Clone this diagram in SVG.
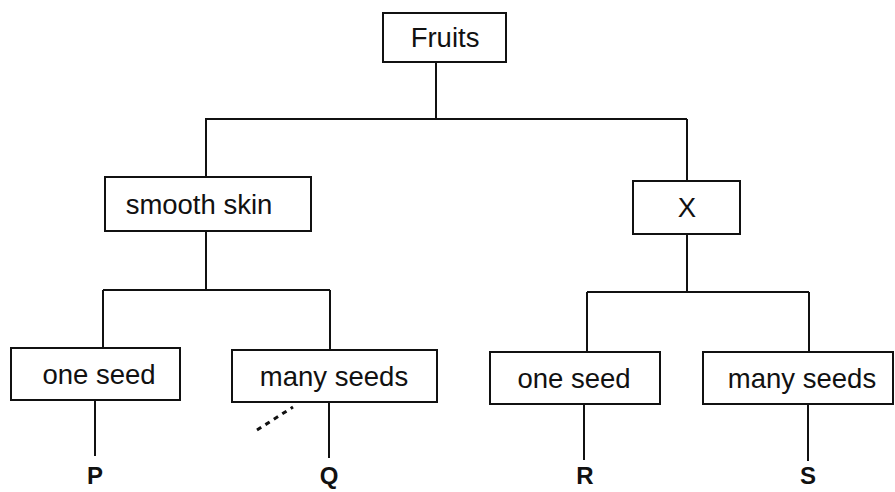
<svg xmlns="http://www.w3.org/2000/svg" width="895" height="492" viewBox="0 0 895 492">
<style>
.box{fill:#fff;stroke:#111;stroke-width:2}
.ln{fill:none;stroke:#111;stroke-width:2}
.t{font-family:"Liberation Sans",Arial,sans-serif;font-size:27.5px;fill:#111;text-anchor:middle}
.lbl{font-family:"Liberation Sans",Arial,sans-serif;font-size:24px;font-weight:bold;fill:#111;text-anchor:middle}
</style>
<rect width="895" height="492" fill="#fff"/>
<g id="connectors">
<path class="ln" d="M436 62V119M205 119H687M206 119V177M687 119V181"/>
<path class="ln" d="M206 231V290M103 290H330M103 290V348M330 290V350"/>
<path class="ln" d="M687 234V292M587 292H809M587 292V352M809 292V352"/>
<path class="ln" d="M95 400V456M329 402V458M584 404V460M808 404V461"/>
<path d="M257 430L293 407" fill="none" stroke="#111" stroke-width="3" stroke-dasharray="5 5"/>
</g>
<g id="fruits"><rect class="box" x="383" y="13" width="123" height="49"/><text class="t" x="445" y="47">Fruits</text></g>
<g id="smooth"><rect class="box" x="105" y="177" width="206" height="54"/><text class="t" x="199" y="214">smooth skin</text></g>
<g id="x"><rect class="box" x="633" y="181" width="107" height="53"/><text class="t" x="687" y="217">X</text></g>
<g id="one1"><rect class="box" x="11" y="348" width="169" height="52"/><text class="t" x="99" y="384">one seed</text></g>
<g id="many1"><rect class="box" x="232" y="350" width="205" height="52"/><text class="t" x="334" y="386">many seeds</text></g>
<g id="one2"><rect class="box" x="490" y="352" width="170" height="52"/><text class="t" x="574" y="388">one seed</text></g>
<g id="many2"><rect class="box" x="703" y="352" width="190" height="52"/><text class="t" x="802" y="388">many seeds</text></g>
<g id="labels">
<text class="lbl" x="95" y="484">P</text>
<text class="lbl" x="329" y="484">Q</text>
<text class="lbl" x="585" y="484">R</text>
<text class="lbl" x="808" y="484">S</text>
</g>
</svg>
